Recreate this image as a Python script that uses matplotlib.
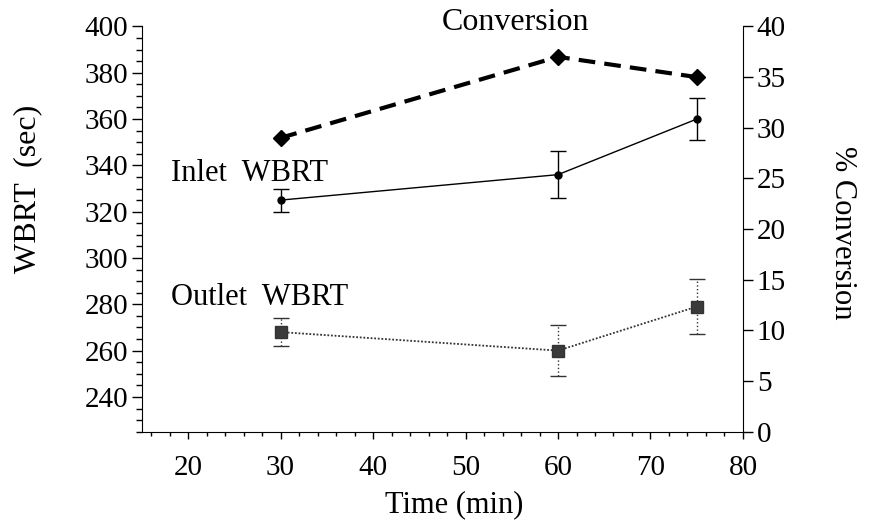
import matplotlib.pyplot as plt
from matplotlib.ticker import MultipleLocator

plt.rcParams['font.family'] = ['Liberation Serif', 'DejaVu Serif']

time_min = [30, 60, 75]
inlet_wbrt = [325, 336, 360]
inlet_err = [5, 10, 9]
outlet_wbrt = [268, 260, 279]
outlet_err = [6, 11, 12]
conversion = [29, 37, 35]

fig = plt.figure(figsize=(8.7, 5.29), dpi=100)
ax = fig.add_axes([0.163, 0.184, 0.691, 0.766])
ax2 = ax.twinx()

# inlet
ax.errorbar(time_min, inlet_wbrt, yerr=inlet_err, color='black', linewidth=1,
            marker='o', markersize=5, capsize=6, elinewidth=1, capthick=1)
# outlet, dotted
eb = ax.errorbar(time_min, outlet_wbrt, yerr=outlet_err, color='#333333', linewidth=1.3,
                 linestyle=(0, (1, 1)), marker='s', markersize=8, markerfacecolor='#3a3a3a',
                 capsize=6, elinewidth=1, capthick=1)
for c in eb[2]:
    c.set_linestyle(':')

# conversion
ax2.plot(time_min, conversion, color='black', linestyle='--', linewidth=3,
         dashes=(4, 2.2), marker='D', markersize=8)

ax.set_xlim(15, 80)
ax.set_ylim(225, 400)
ax2.set_ylim(0, 40)

ax.xaxis.set_major_locator(MultipleLocator(10))
ax.xaxis.set_minor_locator(MultipleLocator(2))
ax.yaxis.set_major_locator(MultipleLocator(20))
ax.yaxis.set_minor_locator(MultipleLocator(5))
ax2.yaxis.set_major_locator(MultipleLocator(5))
ax.set_yticks(range(240, 401, 20))

for a in (ax, ax2):
    a.spines['top'].set_visible(False)
ax.spines['right'].set_visible(False)
ax2.spines['left'].set_visible(False)
ax2.spines['bottom'].set_visible(False)

ax.tick_params(axis='y', which='major', length=7, width=1, labelsize=21, pad=3)
ax.tick_params(axis='y', which='minor', length=4, width=1)
ax.tick_params(axis='x', which='major', length=5, width=1, labelsize=21, pad=12)
ax.tick_params(axis='x', which='minor', length=3, width=1)
ax2.tick_params(axis='y', which='major', length=7, width=1, labelsize=21, pad=3)

ax.set_xlabel('Time (min)', fontsize=22, va='center')
ax.xaxis.set_label_coords(0.52, -0.18)
ax.set_ylabel('WBRT  (sec)', fontsize=23, va='center')
ax.yaxis.set_label_coords(-0.19, 0.6)
ax2.set_ylabel('% Conversion', fontsize=22, rotation=-90, va='center')
ax2.yaxis.set_label_coords(1.165, 0.49)

ax.text(18.2, 336.5, 'Inlet  WBRT', fontsize=22, va='center')
ax.text(18.2, 283, 'Outlet  WBRT', fontsize=22, va='center')
fig.text(0.593, 0.958, 'Conversion', fontsize=23, ha='center', va='center')

fig.savefig('out.png', dpi=100)
